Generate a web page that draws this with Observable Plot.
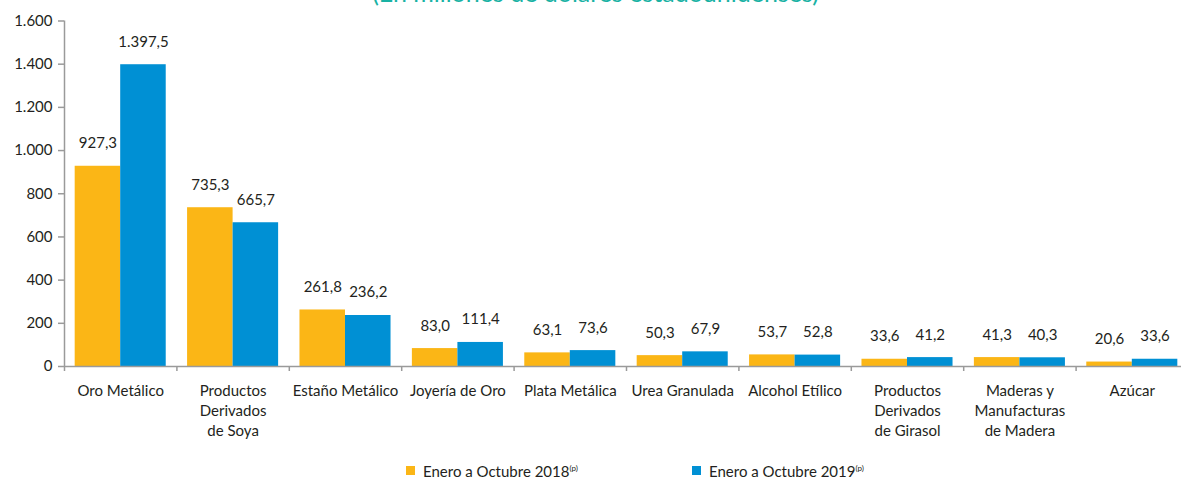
<!DOCTYPE html>
<html>
<head>
<meta charset="utf-8">
<script src="https://cdn.jsdelivr.net/npm/d3@7"></script>
<script src="https://cdn.jsdelivr.net/npm/@observablehq/plot@0.6"></script>
<style>
  html, body { margin: 0; padding: 0; background: #fff; }
  body { position: relative; width: 1181px; height: 479px; overflow: hidden; font-family: Lato, "Open Sans", sans-serif; color: #231F20; }
  #subtitle { position: absolute; z-index: 2; left: 0; width: 1191px; top: -20px; text-align: center; font-size: 25px; line-height: 25px; color: #19B2A4; white-space: nowrap; }
  #chart { position: absolute; left: 0; top: 0; z-index: 1; }
  .leg { position: absolute; top: 462px; font-size: 15px; line-height: 18px; white-space: nowrap; }
  .leg .sw { position: absolute; left: -17px; top: 4px; width: 9px; height: 9px; }
  .leg sup { font-size: 8px; vertical-align: 6px; line-height: 0; }
  g[aria-label="y-axis tick"], g[aria-label="x-axis tick"] { stroke: #9A9A9A; stroke-width: 1.5; }
</style>
</head>
<body>
<div id="subtitle">(En millones de dólares estadounidenses)</div>
<div id="chart"></div>
<div class="leg" style="left:423px"><span class="sw" style="background:#FBB616"></span>Enero a Octubre 2018<sup>(p)</sup></div>
<div class="leg" style="left:709px"><span class="sw" style="background:#0090D4"></span>Enero a Octubre 2019<sup>(p)</sup></div>
<script>
// ---- data ----
const categories = [
  "Oro Metálico",
  "Productos\nDerivados\nde Soya",
  "Estaño Metálico",
  "Joyería de Oro",
  "Plata Metálica",
  "Urea Granulada",
  "Alcohol Etílico",
  "Productos\nDerivados\nde Girasol",
  "Maderas y\nManufacturas\nde Madera",
  "Azúcar"
];
const v2018 = [927.3, 735.3, 261.8, 83.0, 63.1, 50.3, 53.7, 33.6, 41.3, 20.6];
const v2019 = [1397.5, 665.7, 236.2, 111.4, 73.6, 67.9, 52.8, 41.2, 40.3, 33.6];
const yTicks = [0, 200, 400, 600, 800, 1000, 1200, 1400, 1600];
const seriesNames = ["Enero a Octubre 2018", "Enero a Octubre 2019"];

// ---- styles ----
const colors = ["#FBB616", "#0090D4"];
const axisGray = "#9A9A9A";
const pad = 0.095;   // band padding (fraction of category step)

const es = d3.formatLocale({decimal: ",", thousands: ".", grouping: [3], currency: ["", ""]});
const fmtInt = es.format(",.0f");
const fmt1 = es.format(",.1f");

const rows2018 = categories.map((c, i) => ({i, cat: c, serie: seriesNames[0], v: v2018[i]}));
const rows2019 = categories.map((c, i) => ({i, cat: c, serie: seriesNames[1], v: v2019[i]}));

const chart = Plot.plot({
  width: 1181,
  height: 450,
  marginLeft: 64,
  marginRight: 0,
  marginTop: 20.5,
  marginBottom: 84,
  style: {fontFamily: "Lato, 'Open Sans', sans-serif", fontSize: "15px", color: "#231F20", background: "transparent", overflow: "visible"},
  x: {domain: [0, categories.length], range: [64, 1188], axis: null},
  y: {domain: [0, 1600], axis: null},
  marks: [
    Plot.rectY(rows2018, {x1: d => d.i + pad, x2: d => d.i + 0.5, y: "v", fill: colors[0]}),
    Plot.rectY(rows2019, {x1: d => d.i + 0.5, x2: d => d.i + 1 - pad, y: "v", fill: colors[1]}),
    Plot.ruleY([0], {stroke: axisGray, strokeWidth: 1.5}),
    Plot.ruleX([0], {y1: 0, y2: 1600, stroke: axisGray, strokeWidth: 1.5}),
    Plot.axisY({ticks: yTicks, tickFormat: fmtInt, tickSize: 6, tickPadding: 6, anchor: "left", label: null}),
    Plot.axisX({ticks: d3.range(0, categories.length + 1), tickFormat: () => "", tickSize: 5, anchor: "bottom", label: null}),
    Plot.text(categories, {x: (d, i) => i + 0.5, text: d => d, frameAnchor: "bottom", lineAnchor: "top", dy: 16, lineHeight: 1.31, fill: "#231F20"}),
    Plot.text(rows2018, {x: d => d.i + (pad + 0.5) / 2, y: "v", text: d => fmt1(d.v), dy: -18, lineAnchor: "bottom", fill: "#231F20"}),
    Plot.text(rows2019, {x: d => d.i + (1.5 - pad) / 2, y: "v", text: d => fmt1(d.v), dy: -18, lineAnchor: "bottom", fill: "#231F20"})
  ]
});
document.getElementById("chart").appendChild(chart);
</script>
</body>
</html>
